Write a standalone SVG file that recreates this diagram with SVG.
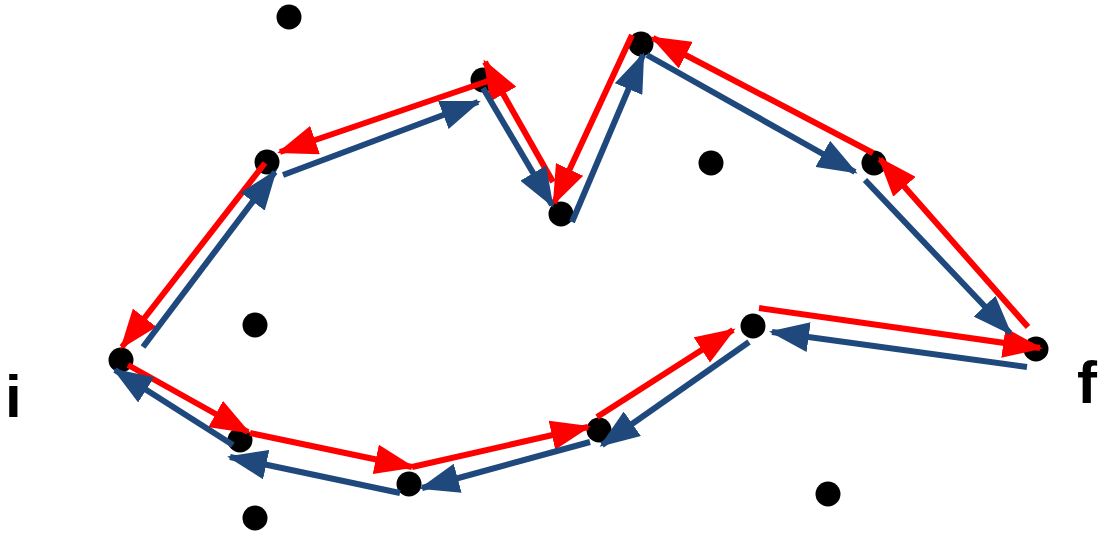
<svg xmlns="http://www.w3.org/2000/svg" width="1104" height="538" viewBox="0 0 1104 538">
<style>
.r{stroke:#FF0000;stroke-width:6;fill:none;marker-end:url(#ar)}
.b{stroke:#1F497D;stroke-width:6;fill:none;marker-end:url(#ab)}
.n{fill:#000000}
.t{font-family:"Liberation Sans",Arial,sans-serif;font-weight:bold;font-size:60px;fill:#000000}
</style>
<defs>
<marker id="ar" markerUnits="userSpaceOnUse" markerWidth="40" markerHeight="30" refX="37" refY="15" orient="auto"><path d="M0,0 L40,15 L0,30 z" fill="#FF0000"/></marker>
<marker id="ab" markerUnits="userSpaceOnUse" markerWidth="40" markerHeight="30" refX="37" refY="15" orient="auto"><path d="M0,0 L40,15 L0,30 z" fill="#1F497D"/></marker>
</defs>
<g id="nodes">
<g id="n1"><circle class="n" cx="289" cy="17" r="12.5"/></g>
<g id="n2"><circle class="n" cx="267" cy="162" r="12.5"/></g>
<g id="n3"><circle class="n" cx="483" cy="80" r="12.5"/></g>
<g id="n4"><circle class="n" cx="561" cy="214" r="12.5"/></g>
<g id="n5"><circle class="n" cx="641" cy="44" r="12.5"/></g>
<g id="n6"><circle class="n" cx="711" cy="163" r="12.5"/></g>
<g id="n7"><circle class="n" cx="874" cy="163" r="12.5"/></g>
<g id="n8"><circle class="n" cx="1036" cy="349" r="12.5"/></g>
<g id="n9"><circle class="n" cx="753" cy="326" r="12.5"/></g>
<g id="n10"><circle class="n" cx="599" cy="430" r="12.5"/></g>
<g id="n11"><circle class="n" cx="409" cy="484" r="12.5"/></g>
<g id="n12"><circle class="n" cx="240" cy="440" r="12.5"/></g>
<g id="n13"><circle class="n" cx="121" cy="360" r="12.5"/></g>
<g id="n14"><circle class="n" cx="255" cy="325" r="12.5"/></g>
<g id="n15"><circle class="n" cx="255" cy="518" r="12.5"/></g>
<g id="n16"><circle class="n" cx="828" cy="494" r="12.5"/></g>
</g>
<g id="labels">
<text class="t" x="5" y="417">i</text>
<text class="t" x="1077" y="403">f</text>
</g>
<g id="connectors">
<line class="r" x1="128" y1="365" x2="248" y2="432"/>
<line class="r" x1="250" y1="433" x2="412" y2="467"/>
<line class="r" x1="412" y1="467" x2="588" y2="427"/>
<line class="r" x1="597" y1="417" x2="733" y2="330"/>
<line class="r" x1="759" y1="308" x2="1040" y2="348"/>
<line class="r" x1="1028" y1="327" x2="880" y2="159"/>
<line class="r" x1="873" y1="153" x2="653" y2="38"/>
<line class="r" x1="632" y1="35" x2="554" y2="203"/>
<line class="r" x1="553" y1="182" x2="485" y2="62"/>
<line class="r" x1="488" y1="81" x2="280" y2="152"/>
<line class="r" x1="265" y1="163" x2="122" y2="347"/>
<line class="b" x1="143" y1="347" x2="275" y2="172"/>
<line class="b" x1="283" y1="175" x2="478" y2="102"/>
<line class="b" x1="483" y1="88" x2="552" y2="205"/>
<line class="b" x1="572" y1="222" x2="643" y2="55"/>
<line class="b" x1="647" y1="55" x2="855" y2="172"/>
<line class="b" x1="865" y1="180" x2="1010" y2="333"/>
<line class="b" x1="1027" y1="367" x2="772" y2="332"/>
<line class="b" x1="749" y1="342" x2="602" y2="445"/>
<line class="b" x1="590" y1="442" x2="422" y2="488"/>
<line class="b" x1="400" y1="493" x2="230" y2="457"/>
<line class="b" x1="233" y1="445" x2="115" y2="370"/>
</g>
</svg>
